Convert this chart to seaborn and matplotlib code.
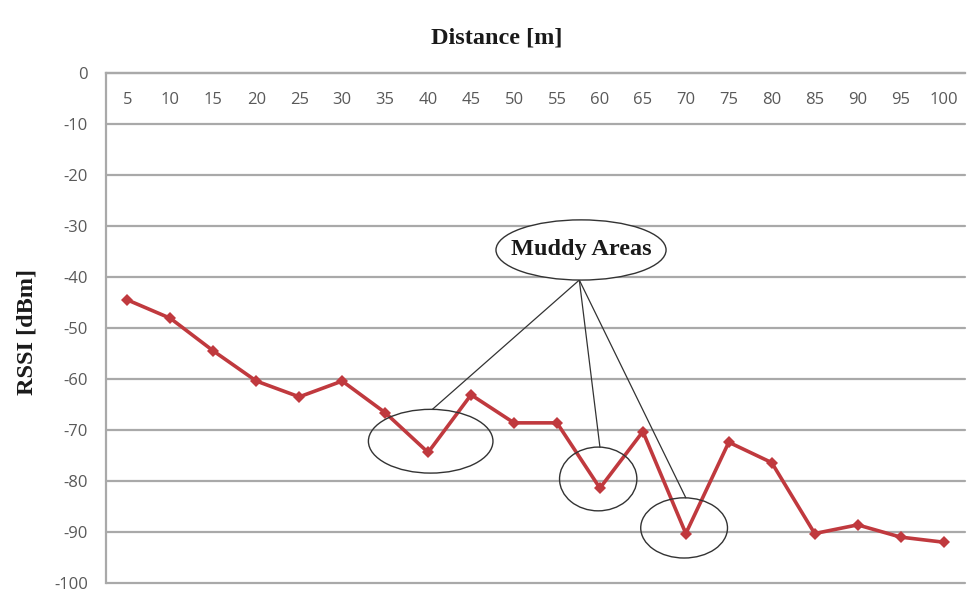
import matplotlib
matplotlib.use("Agg")
import matplotlib.pyplot as plt
import seaborn as sns
import pandas as pd
from matplotlib.patches import Ellipse

# --- Data ---
distance = [5, 10, 15, 20, 25, 30, 35, 40, 45, 50,
            55, 60, 65, 70, 75, 80, 85, 90, 95, 100]
rssi = [-44.5, -48.1, -54.5, -60.4, -63.5, -60.4, -66.6, -74.4, -63.1, -68.6,
        -68.6, -81.4, -70.3, -90.3, -72.4, -76.4, -90.3, -88.6, -91.0, -92.0]
y_ticks = list(range(0, -101, -10))

# muddy-area circles: (centre x, centre y, width, height) in data units
muddy_circles = [(40.3, -72.2, 14.5, 12.5),
                 (59.8, -79.6, 9.0, 12.5),
                 (69.8, -89.2, 10.1, 11.8)]
callout = (57.8, -34.7, 19.8, 11.8)

RED = "#c0393e"
GRID = "#a9a9a9"
TICK_TXT = "#595959"

df = pd.DataFrame({"Distance": distance, "RSSI": rssi})

sns.set_theme(style="white")
plt.rcParams['font.family'] = ['Open Sans', 'DejaVu Sans']
plt.rcParams['axes.unicode_minus'] = False

fig = plt.figure(figsize=(9.73, 5.92), dpi=100)
ax = fig.add_axes([0.1089, 0.0152, 0.8829, 0.8615])

sns.lineplot(data=df, x="Distance", y="RSSI", color=RED, linewidth=2.6,
             marker="D", markersize=6.5, markeredgewidth=0, ax=ax)

# --- Axes styling (Excel look: category axis crosses at 0) ---
ax.set_xlim(2.5, 102.5)
ax.set_ylim(-100, 0)
ax.set_xticks(distance)
ax.set_yticks(y_ticks)
ax.grid(axis="y", color=GRID, linewidth=1.6)
for gl in ax.get_ygridlines():
    gl.set_clip_on(False)
ax.set_axisbelow(True)

ax.spines['bottom'].set_position(('data', 0))
ax.spines['bottom'].set_color(GRID)
ax.spines['bottom'].set_linewidth(1.6)
ax.spines['left'].set_color(GRID)
ax.spines['left'].set_linewidth(1.6)
ax.spines['top'].set_visible(False)
ax.spines['right'].set_visible(False)

ax.tick_params(axis="x", length=0, pad=14, labelsize=12, labelcolor=TICK_TXT)
ax.tick_params(axis="y", length=0, pad=13, labelsize=12, labelcolor=TICK_TXT)

serif = ['Liberation Serif', 'DejaVu Serif']
ax.set_xlabel("Distance [m]", family=serif, fontweight="bold", fontsize=17.5, color="#1a1a1a")
ax.xaxis.set_label_coords(0.455, 1.069)
ax.xaxis.label.set_va("center")
ax.set_ylabel("RSSI [dBm]", family=serif, fontweight="bold", fontsize=17.5, color="#1a1a1a")
ax.yaxis.set_label_coords(-0.092, 0.492)
ax.yaxis.label.set_va("center")

# --- Muddy areas annotation ---
cx, cy, cw, ch = callout
start = (cx - 0.2, cy - ch / 2)
for mx, my, mw, mh in muddy_circles:
    ax.add_patch(Ellipse((mx, my), mw, mh, fill=False, edgecolor="#333333",
                         linewidth=1.0, zorder=3))
    ax.plot([start[0], mx + 0.2], [start[1], my + mh / 2],
            color="#333333", linewidth=0.9, zorder=3)

ax.add_patch(Ellipse((cx, cy), cw, ch, facecolor="white", edgecolor="#333333",
                     linewidth=1.0, zorder=4))
ax.text(cx, cy, "Muddy Areas", family=serif, fontweight="bold", fontsize=17.5,
        ha="center", va="center", color="#1a1a1a", zorder=5)

plt.savefig("out.png", dpi=100)
plt.close(fig)
